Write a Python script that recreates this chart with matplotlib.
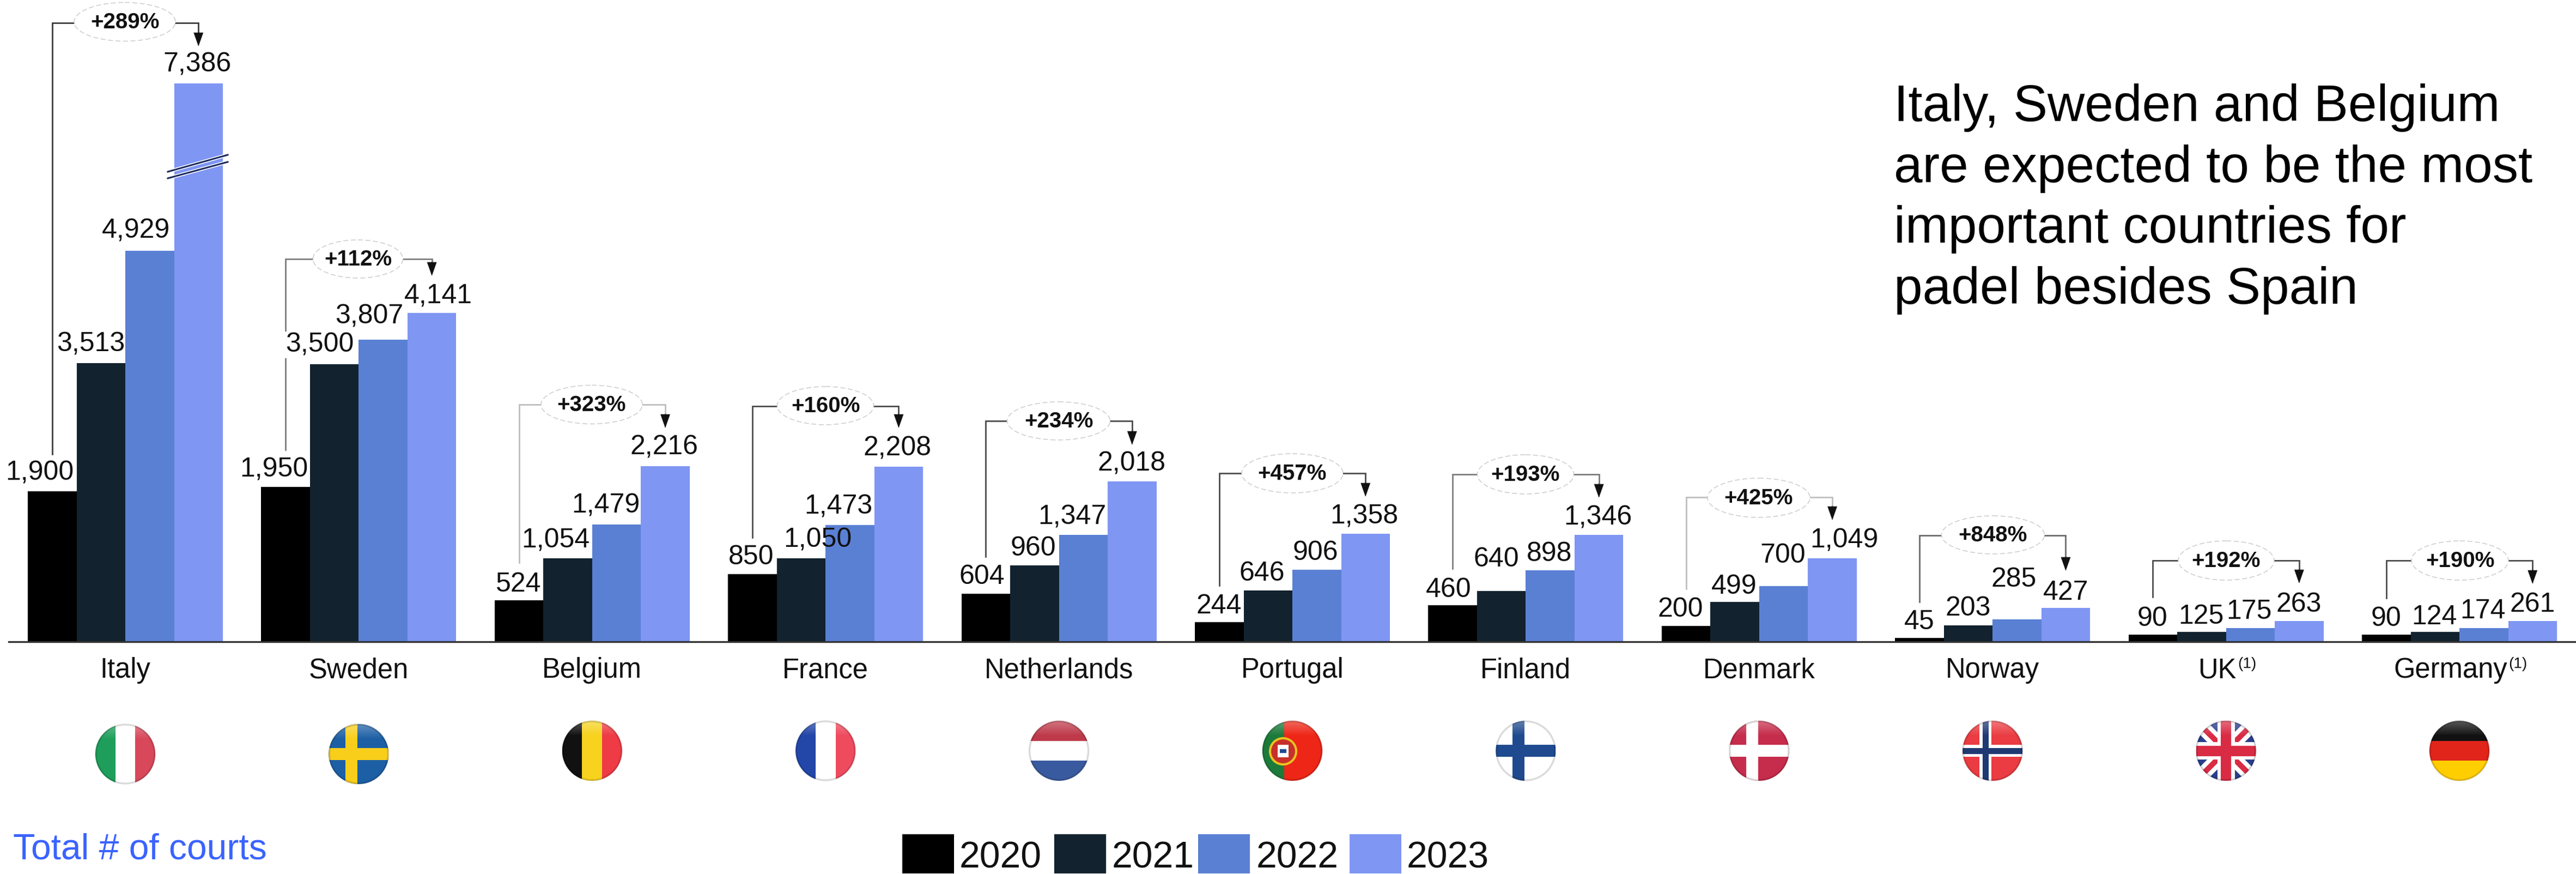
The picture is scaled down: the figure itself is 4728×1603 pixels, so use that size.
import numpy as np
import matplotlib
matplotlib.use('Agg')
import matplotlib.pyplot as plt
from matplotlib.patches import Circle, Ellipse, Rectangle
import matplotlib.patheffects as pe

plt.rcParams['font.family'] = ['Liberation Sans', 'DejaVu Sans']

# Data
countries = ['Italy', 'Sweden', 'Belgium', 'France', 'Netherlands', 'Portugal',
             'Finland', 'Denmark', 'Norway', 'UK', 'Germany']
notes = ['', '', '', '', '', '', '', '', '', '(1)', '(1)']
years = ['2020', '2021', '2022', '2023']
courts_2020 = [1900, 1950, 524, 850, 604, 244, 460, 200, 45, 90, 90]
courts_2021 = [3513, 3500, 1054, 1050, 960, 646, 640, 499, 203, 125, 124]
courts_2022 = [4929, 3807, 1479, 1473, 1347, 906, 898, 700, 285, 175, 174]
courts_2023 = [7386, 4141, 2216, 2208, 2018, 1358, 1346, 1049, 427, 263, 261]
growth = ['+289%', '+112%', '+323%', '+160%', '+234%', '+457%',
          '+193%', '+425%', '+848%', '+192%', '+190%']
series = [courts_2020, courts_2021, courts_2022, courts_2023]
colors = ['#000000', '#12232F', '#5A80D4', '#7F96F3']

# Layout, all in pixels of the 4728x1603 picture
W, H = 4728, 1603
BASE_Y = 1177
PX_PER_COURT = 0.1455
GROUP_X0, PITCH, BAR_W = 230.0, 428.4, 89.5
AXIS_LEFT = 16

# label offsets from the top centre of each bar (x shift, baseline gap)
label_dx = [[-23, -19, -25, -2], [-21, -27, -25, 12], [-1, -22, -20, -2], [-2, 30, -21, -2],
            [-7, -2, -20, -1], [0, -11, -2, -2], [-7, -9, -2, -2], [-10, -1, -1, 22],
            [0, 0, -6, 0], [-1, -1, -2, -1], [0, -1, -2, 0]]
label_gap = [[20, 21, 23, 22], [19, 22, 30, 19], [16, 19, 21, 21], [18, 21, 20, 20],
             [18, 18, 20, 20], [16, 18, 18, 19], [15, 45, 17, 19], [17, 15, 43, 20],
             [16, 18, 60, 15], [16, 15, 17, 17], [16, 14, 18, 17]]

# brackets: top line, bottom end of left line, pill centre, pill size, arrow tip, line colour
bracket_top = [42, 475, 742, 745, 772, 868, 870, 912, 982, 1028, 1028]
bracket_end = [833, 825, 1032, 986, 1021, 1074, 1043, 1080, 1104, 1095, 1097]
pill_x = [229, 657, 1086, 1515, 1943, 2372, 2800, 3228, 3658, 4086, 4515]
pill_y = [40, 475, 742, 744, 772, 868, 870, 913, 981, 1028, 1028]
pill_w = [186, 165, 186, 177, 189, 186, 177, 188, 189, 176, 178]
pill_h = [71, 70, 71, 70, 70, 72, 72, 72, 70, 72, 72]
arrow_tip = [85, 506, 785, 785, 816, 911, 913, 954, 1047, 1070, 1071]
line_col = ['#333333', '#777777', '#bbbbbb', '#444444', '#444444', '#444444',
            '#777777', '#bbbbbb', '#666666', '#444444', '#444444']
flag_y = [1383, 1383, 1377, 1377, 1377, 1377, 1377, 1377, 1377, 1377, 1377]

# The tall Italian bar is cut: above the break the scale is squeezed
BREAK = 5000.0
SQUEEZE = (1024 / PX_PER_COURT - BREAK) / (7386 - BREAK)


def forward(y):
    y = np.asarray(y, dtype=float)
    return np.where(y <= BREAK, y, BREAK + (y - BREAK) * SQUEEZE)


def inverse(y):
    y = np.asarray(y, dtype=float)
    return np.where(y <= BREAK, y, BREAK + (y - BREAK) / SQUEEZE)


fig = plt.figure(figsize=(W / 100, H / 100), dpi=100, facecolor='white')

# pixel overlay for the decoration, kept under the bars
over = fig.add_axes([0, 0, 1, 1], zorder=0)
over.set_xlim(0, W)
over.set_ylim(H, 0)
over.axis('off')

ax = fig.add_axes([AXIS_LEFT / W, (H - BASE_Y) / H, (W - AXIS_LEFT) / W, BASE_Y / H], zorder=1)
ax.patch.set_visible(False)
ax.set_yscale('function', functions=(forward, inverse))
ax.set_ylim(0, float(inverse(BASE_Y / PX_PER_COURT)))
ax.set_xlim((AXIS_LEFT - GROUP_X0) / PITCH, (W - GROUP_X0) / PITCH)
ax.set_xticks([])
ax.set_yticks([])
ax.minorticks_off()
for s in ['top', 'left', 'right']:
    ax.spines[s].set_visible(False)
ax.spines['bottom'].set_linewidth(2.4)
ax.spines['bottom'].set_color('#333333')

x = np.arange(len(countries))
bw = BAR_W / PITCH
for j, vals in enumerate(series):
    pos = x + (j - 1.5) * bw
    ax.bar(pos, vals, width=bw, color=colors[j], linewidth=0, zorder=2)
    for i, v in enumerate(vals):
        # 3,500 sits over the Swedish bracket line and hides it
        box = dict(fc='white', ec='none', pad=1) if (i, j) == (1, 1) else None
        ax.annotate(f'{v:,}', (pos[i], v), xytext=(label_dx[i][j], label_gap[i][j]),
                    textcoords='offset pixels', ha='center', va='baseline',
                    fontsize=36, color='#111111', zorder=5, bbox=box)

# axis break on Italy 2023
for y0, y1 in [(327, 297), (315, 284)]:
    fig.add_artist(plt.Line2D([308 / W, 418 / W], [1 - y0 / H, 1 - y1 / H], color='#1B2A5E', lw=2.2,
                              zorder=3, path_effects=[pe.withStroke(linewidth=4.5, foreground='white')]))

# growth brackets
for i in range(len(countries)):
    cx = GROUP_X0 + PITCH * i
    xl = cx - 1.5 * BAR_W
    xr = cx + 1.5 * BAR_W
    top = bracket_top[i]
    over.plot([xl, xl, xr, xr], [bracket_end[i], top, top, arrow_tip[i] - 20], color=line_col[i], lw=1.9,
              solid_joinstyle='miter', zorder=1)
    over.annotate('', xy=(xr, arrow_tip[i]), xytext=(xr, arrow_tip[i] - 26), zorder=1,
                  arrowprops=dict(arrowstyle='-|>,head_length=0.85,head_width=0.3', color='#111111',
                                  lw=0.6, shrinkA=0, shrinkB=0, mutation_scale=20))
    over.add_patch(Ellipse((pill_x[i], pill_y[i]), pill_w[i], pill_h[i], fc='white', ec='#cccccc',
                           lw=1.1, ls=(0, (6, 3)), zorder=2))
    over.text(pill_x[i], pill_y[i] + 1, growth[i], ha='center', va='center', fontsize=29,
              fontweight='bold', color='#111111', zorder=3)

# country names
for i, name in enumerate(countries):
    cx = GROUP_X0 + PITCH * i
    if notes[i]:
        t = over.text(cx, 1243, name, fontsize=36.5, ha='right', va='baseline', color='#111111')
        w = t.get_window_extent(fig.canvas.get_renderer()).width
        t.set_x(cx + (w + 32) / 2 - 32)
        over.text(cx + (w + 32) / 2 - 30, 1225, notes[i], fontsize=20, ha='left', va='baseline',
                  color='#111111')
    else:
        over.text(cx, 1243, name, fontsize=36.5, ha='center', va='baseline', color='#111111')


# flags
def stripes_v(cols):
    return [((k / len(cols), 0), 1 / len(cols), 1, c) for k, c in enumerate(cols)]


def stripes_h(cols):
    return [((0, k / len(cols)), 1, 1 / len(cols), c) for k, c in enumerate(cols)]


def nordic(bg, cross, inner=None):
    out = [((0, 0), 1, 1, bg),
           ((0.28, 0), 0.2, 1, cross),
           ((0, 0.4), 1, 0.2, cross)]
    if inner:
        out += [((0.33, 0), 0.1, 1, inner), ((0, 0.45), 1, 0.1, inner)]
    return out


flag_rects = {
    'Italy': stripes_v(['#1E9E5A', '#FFFFFF', '#D8485A']),
    'Sweden': nordic('#1D5FA5', '#F9CE1B'),
    'Belgium': stripes_v(['#111111', '#F7D21E', '#EE3B45']),
    'France': stripes_v(['#2347A8', '#FFFFFF', '#EF4B5F']),
    'Netherlands': stripes_h(['#BE3A4A', '#FFFFFF', '#3A5A9F']),
    'Portugal': [((0, 0), 0.36, 1, '#1C7A3A'), ((0.36, 0), 0.64, 1, '#EE2617')],
    'Finland': nordic('#FFFFFF', '#1F4A8F'),
    'Denmark': nordic('#C62C4B', '#FFFFFF'),
    'Norway': nordic('#EA3C42', '#FFFFFF', '#1F3A73'),
    'UK': [((0, 0), 1, 1, '#2B3E8C')],
    'Germany': stripes_h(['#111111', '#E1251B', '#FFCE00']),
}
gloss = np.ones((64, 2, 4))
gloss[:, :, 3] = np.clip(0.30 * (1 - 2 * np.linspace(0, 1, 64)), 0, 1)[:, None]

for i, name in enumerate(countries):
    cx, cy, r = GROUP_X0 + PITCH * i, flag_y[i], 55
    clip = Circle((cx, cy), r, transform=over.transData)
    arts = []
    for (fx, fy), fw, fh, c in flag_rects[name]:
        arts.append(over.add_patch(Rectangle((cx - r + 2 * r * fx, cy - r + 2 * r * fy),
                                             2 * r * fw, 2 * r * fh, fc=c, ec='none', zorder=2)))
    if name == 'UK':
        for w, c in [(26, '#FFFFFF'), (10, '#D92B44')]:
            for s in (1, -1):
                arts += over.plot([cx - r, cx + r], [cy - s * r, cy + s * r], color=c, lw=w * 0.72,
                                  zorder=2, solid_capstyle='butt')
        for w, c in [(32, '#FFFFFF'), (19, '#D92B44')]:
            arts.append(over.add_patch(Rectangle((cx - w / 2, cy - r), w, 2 * r, fc=c, ec='none', zorder=2)))
            arts.append(over.add_patch(Rectangle((cx - r, cy - w / 2), 2 * r, w, fc=c, ec='none', zorder=2)))
    if name == 'Portugal':
        arts.append(over.add_patch(Circle((cx - 17, cy + 1), 24, fc='#C8302A', ec='#E8C21E', lw=3, zorder=3)))
        arts.append(over.add_patch(Rectangle((cx - 27, cy - 11), 20, 23, fc='#FFFFFF', ec='none', zorder=3)))
        arts.append(over.add_patch(Rectangle((cx - 23, cy - 3), 12, 7, fc='#1F4A8F', ec='none', zorder=3)))
    arts.append(over.imshow(gloss, extent=(cx - r, cx + r, cy, cy - r), aspect='auto', zorder=4))
    for a in arts:
        a.set_clip_path(clip)
    over.add_patch(Circle((cx, cy), r - 1, fc='none', ec=(0, 0, 0, 0.14), lw=2.5, zorder=5))
over.set_xlim(0, W)
over.set_ylim(H, 0)

# legend
swatch_x = [1656, 1935, 2199, 2477]
text_x = [1761, 2041, 2306, 2582]
for j, yr in enumerate(years):
    over.add_patch(Rectangle((swatch_x[j], 1530), 95, 72, fc=colors[j], ec='none'))
    over.text(text_x[j], 1592, yr, fontsize=49, ha='left', va='baseline', color='#111111')

over.text(24, 1575, 'Total # of courts', fontsize=47.5, ha='left', va='baseline', color='#3A63FF')

# side comment
comment = ['Italy, Sweden and Belgium', 'are expected to be the most',
           'important countries for', 'padel besides Spain']
for k, line in enumerate(comment):
    over.text(3476, 222 + 111.7 * k, line, fontsize=68, ha='left', va='baseline', color='#000000')

fig.savefig('out.png', dpi=100, facecolor='white')
